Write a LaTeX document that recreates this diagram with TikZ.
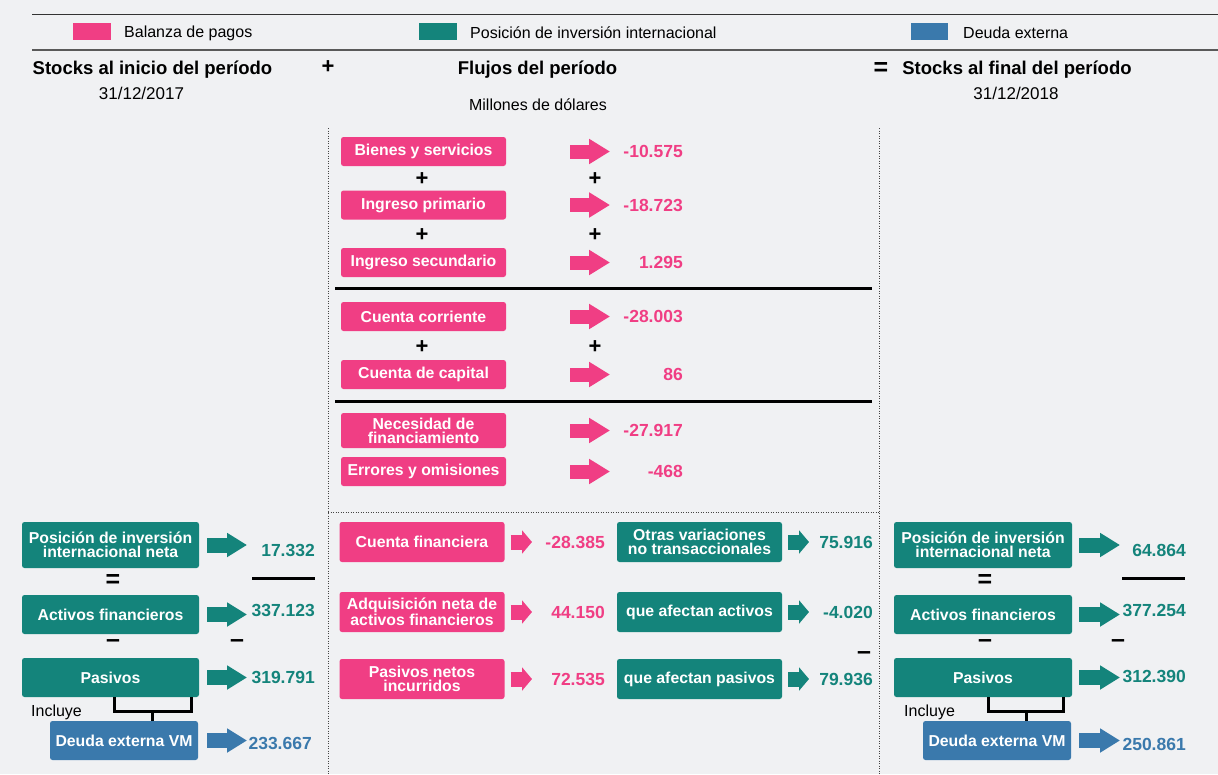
\documentclass[tikz,border=0pt]{standalone}
\usepackage{fontspec}
\setmainfont{Liberation Sans}
\usetikzlibrary{arrows.meta}
\definecolor{bppink}{HTML}{F03E84}
\definecolor{piiteal}{HTML}{14847B}
\definecolor{debblue}{HTML}{3A79AC}
\definecolor{bggray}{HTML}{F0F1F3}
\definecolor{linegray}{HTML}{444444}

\begin{document}
\begin{tikzpicture}[x=1pt,y=-1pt]
 \tikzset{bpbox/.style={fill=bppink, rounded corners=2.5pt, text=white, align=center, inner sep=0pt, minimum width=165pt, minimum height=29pt, font=\bfseries\fontsize{15.8}{14}\selectfont},
  piibox/.style={bpbox, fill=piiteal},
  debbox/.style={bpbox, fill=debblue},
  bpval/.style={anchor=east, inner sep=0pt, text=bppink, font=\bfseries\fontsize{17.5}{18}\selectfont},
  piival/.style={bpval, text=piiteal},
  debval/.style={bpval, text=debblue},
  bigarrow/.style={line width=14pt, -{Triangle[length=21pt,width=24pt]}},
  smallarrow/.style={line width=15pt, -{Triangle[length=10pt,width=23pt]}},
  sidearrow/.style={line width=15pt, -{Triangle[length=20pt,width=23pt]}},
  sign/.style={font=\bfseries\fontsize{22}{22}\selectfont},
  bar/.style={font=\bfseries\fontsize{25}{25}\selectfont},
  rule/.style={line width=3pt},
  sep/.style={linegray, line width=1pt, dash pattern=on 1pt off 1.5pt},
  plain/.style={font=\fontsize{16}{18}\selectfont},
  head/.style={font=\bfseries\fontsize{18.5}{20}\selectfont}}
 \useasboundingbox (0,0) rectangle (1218,774);
 \fill[bggray] (0,0) rectangle (1218,774);

 \draw[black!80, line width=1pt] (32,14) -- (1218,14);
 \draw[black!65, line width=1.5pt] (32,50) -- (1218,50);
 \node[fill=bppink, minimum width=38pt, minimum height=17pt, inner sep=0pt] (lg1) at (92,31.5) {};
 \node[plain, anchor=west, inner sep=0pt] (lt1) at (124,33) {Balanza de pagos};
 \node[fill=piiteal, minimum width=38pt, minimum height=17pt, inner sep=0pt] (lg2) at (438,31.5) {};
 \node[plain, anchor=west, inner sep=0pt] (lt2) at (470,33) {Posición de inversión internacional};
 \node[fill=debblue, minimum width=37pt, minimum height=17pt, inner sep=0pt] (lg3) at (929.5,31.5) {};
 \node[plain, anchor=west, inner sep=0pt] (lt3) at (963,33) {Deuda externa};

 \node[head] (h1) at (152.5,70) {Stocks al inicio del período};
 \node[sign] (hp) at (328,67) {+};
 \node[head] (h2) at (537.5,70) {Flujos del período};
 \node[bar] (he) at (881,69) {=};
 \node[head] (h3) at (1017,70) {Stocks al final del período};
 \node[plain, font=\fontsize{17}{18}\selectfont] (d1) at (141.5,93) {31/12/2017};
 \node[plain, font=\fontsize{17}{18}\selectfont] (d2) at (1016,93) {31/12/2018};
 \node[plain] (mu) at (538,105) {Millones de dólares};

 \draw[sep] (328,128) -- (328,774);
 \draw[sep] (879,128) -- (879,774);
 \draw[sep] (328,512) -- (879,512);

 \node[bpbox] (b1) at (423.5,151.5) {Bienes y servicios};
 \node[bpbox] (b2) at (423.5,205) {Ingreso primario};
 \node[bpbox] (b3) at (423.5,262.5) {Ingreso secundario};
 \node[bpbox] (b4) at (423.5,316.5) {Cuenta corriente};
 \node[bpbox] (b5) at (423.5,374.5) {Cuenta de capital};
 \node[bpbox, minimum height=35pt] (b6) at (423.5,430.5) {Necesidad de\\financiamiento};
 \node[bpbox] (b7) at (423.5,471.5) {Errores y omisiones};
 \node[bpval] (v1) at (683,151.5) {-10.575};
 \node[bpval] (v2) at (683,205) {-18.723};
 \node[bpval] (v3) at (683,262.5) {1.295};
 \node[bpval] (v4) at (683,316.5) {-28.003};
 \node[bpval] (v5) at (683,374.5) {86};
 \node[bpval] (v6) at (683,430.5) {-27.917};
 \node[bpval] (v7) at (683,471.5) {-468};
 \draw[bigarrow, bppink, shorten <=64pt, shorten >=73pt] (b1.east) -- (v1.east);
 \draw[bigarrow, bppink, shorten <=64pt, shorten >=73pt] (b2.east) -- (v2.east);
 \draw[bigarrow, bppink, shorten <=64pt, shorten >=73pt] (b3.east) -- (v3.east);
 \draw[bigarrow, bppink, shorten <=64pt, shorten >=73pt] (b4.east) -- (v4.east);
 \draw[bigarrow, bppink, shorten <=64pt, shorten >=73pt] (b5.east) -- (v5.east);
 \draw[bigarrow, bppink, shorten <=64pt, shorten >=73pt] (b6.east) -- (v6.east);
 \draw[bigarrow, bppink, shorten <=64pt, shorten >=73pt] (b7.east) -- (v7.east);
 \node[sign] (p1) at (422,179) {+};
 \node[sign] (p2) at (595,179) {+};
 \node[sign] (p3) at (422,235) {+};
 \node[sign] (p4) at (595,235) {+};
 \node[sign] (p5) at (422,347) {+};
 \node[sign] (p6) at (595,347) {+};
 \draw[rule] (335,288) -- (872,288);
 \draw[rule] (335,401) -- (872,401);

 \node[bpbox, minimum height=40pt] (cf) at (422,542) {Cuenta financiera};
 \node[bpbox, minimum height=40pt] (an) at (422,612) {Adquisición neta de\\activos financieros};
 \node[bpbox, minimum height=40pt] (pn) at (422,679) {Pasivos netos\\incurridos};
 \node[bpval] (vcf) at (605,542) {-28.385};
 \node[bpval] (van) at (605,612) {44.150};
 \node[bpval] (vpn) at (605,679) {72.535};
 \draw[smallarrow, bppink, shorten <=6pt, shorten >=73pt] (cf.east) -- (vcf.east);
 \draw[smallarrow, bppink, shorten <=6pt, shorten >=73pt] (an.east) -- (van.east);
 \draw[smallarrow, bppink, shorten <=6pt, shorten >=73pt] (pn.east) -- (vpn.east);
 \node[piibox, minimum height=40pt] (ov) at (699.5,542) {Otras variaciones\\no transaccionales};
 \node[piibox, minimum height=40pt] (oa) at (699.5,612) {que afectan activos};
 \node[piibox, minimum height=40pt] (op) at (699.5,679) {que afectan pasivos};
 \node[piival] (vov) at (873,542) {75.916};
 \node[piival] (voa) at (873,612) {-4.020};
 \node[piival] (vop) at (873,679) {79.936};
 \draw[smallarrow, piiteal, shorten <=6pt, shorten >=64pt] (ov.east) -- (vov.east);
 \draw[smallarrow, piiteal, shorten <=6pt, shorten >=64pt] (oa.east) -- (voa.east);
 \draw[smallarrow, piiteal, shorten <=6pt, shorten >=64pt] (op.east) -- (vop.east);
 \node[bar] (m0) at (864,656) {–};

 \node[piibox, minimum width=177pt, minimum height=46pt] (pii0) at (110.5,545) {Posición de inversión\\internacional neta};
 \node[piibox, minimum width=177pt, minimum height=39pt] (act0) at (110.5,614.5) {Activos financieros};
 \node[piibox, minimum width=177pt, minimum height=39pt] (pas0) at (110.5,677.5) {Pasivos};
 \node[debbox, minimum width=148pt, minimum height=39pt] (dx0) at (124,740.5) {Deuda externa VM};
 \node[piival] (vp0) at (315,550) {17.332};
 \node[piival] (va0) at (315,610) {337.123};
 \node[piival] (vs0) at (315,677) {319.791};
 \node[debval] (vd0) at (312,743) {233.667};
 \draw[sidearrow, piiteal, shorten <=8pt, shorten >=68pt] (pii0.east) -- (pii0.east -| vp0.east);
 \draw[sidearrow, piiteal, shorten <=8pt, shorten >=68pt] (act0.east) -- (act0.east -| va0.east);
 \draw[sidearrow, piiteal, shorten <=8pt, shorten >=68pt] (pas0.east) -- (pas0.east -| vs0.east);
 \draw[sidearrow, debblue, shorten <=9pt, shorten >=65pt] (dx0.east) -- (dx0.east -| vd0.east);
 \draw[rule] (252,578) -- (315,578);
 \node[bar] (e0) at (113,581) {=};
 \node[bar] (m1) at (113,644) {–};
 \node[bar] (m2) at (237,644) {–};
 \draw[rule] ([xshift=3.5pt]pas0.south) -- ++(0,14) -| ([xshift=80.5pt]pas0.south);
 \draw[rule] ([xshift=28pt]dx0.north) -- ++(0,-10);
 \node[plain, anchor=west, inner sep=0pt] (in0) at (31,712) {Incluye};

 \node[piibox, minimum width=178pt, minimum height=46pt] (pii1) at (983,545) {Posición de inversión\\internacional neta};
 \node[piibox, minimum width=178pt, minimum height=39pt] (act1) at (983,614.5) {Activos financieros};
 \node[piibox, minimum width=178pt, minimum height=39pt] (pas1) at (983,677.5) {Pasivos};
 \node[debbox, minimum width=148pt, minimum height=39pt] (dx1) at (997,740.5) {Deuda externa VM};
 \node[piival] (vp1) at (1186,550) {64.864};
 \node[piival] (va1) at (1186,610) {377.254};
 \node[piival] (vs1) at (1186,676) {312.390};
 \node[debval] (vd1) at (1186,744) {250.861};
 \draw[sidearrow, piiteal, shorten <=7pt, shorten >=66pt] (pii1.east) -- (pii1.east -| vp1.east);
 \draw[sidearrow, piiteal, shorten <=7pt, shorten >=66pt] (act1.east) -- (act1.east -| va1.east);
 \draw[sidearrow, piiteal, shorten <=7pt, shorten >=66pt] (pas1.east) -- (pas1.east -| vs1.east);
 \draw[sidearrow, debblue, shorten <=8pt, shorten >=66pt] (dx1.east) -- (dx1.east -| vd1.east);
 \draw[rule] (1122,578) -- (1185,578);
 \node[bar] (e1) at (985,581) {=};
 \node[bar] (m3) at (985,644) {–};
 \node[bar] (m4) at (1118,644) {–};
 \draw[rule] ([xshift=5pt]pas1.south) -- ++(0,14) -| ([xshift=80pt]pas1.south);
 \draw[rule] ([xshift=29pt]dx1.north) -- ++(0,-10);
 \node[plain, anchor=west, inner sep=0pt] (in1) at (904,712) {Incluye};
\end{tikzpicture}
\end{document}
